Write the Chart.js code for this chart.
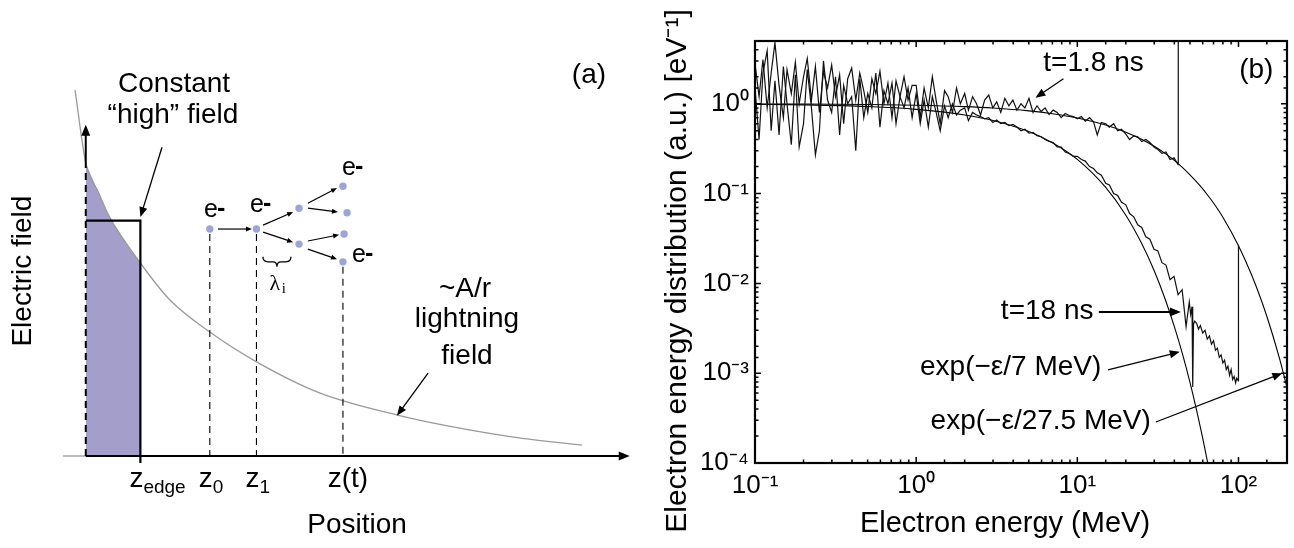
<!DOCTYPE html>
<html>
<head>
<meta charset="utf-8">
<script src="https://cdn.jsdelivr.net/npm/chart.js@4.4.0/dist/chart.umd.min.js"></script>
<style>
    html, body { margin: 0; padding: 0; background: #fff; overflow: hidden; }
    #tela { position: relative; width: 1294px; height: 548px; }
    canvas { position: absolute; top: 0; }
    #esquema { left: 0; }
    #espectro { left: 647px; }
</style>
</head>
<body>
<div id="tela">
    <canvas id="esquema" width="647" height="548"></canvas>
    <canvas id="espectro" width="647" height="548"></canvas>
</div>
<script>
// ===== painel (a): esquema do campo (unidades arbitrarias) =====
var curvaZ = [-0.47, 0, 0.55, 1.05, 2.4, 3.7, 5.45, 7.5, 10.3, 13.7, 15.9, 18.8, 21.8];
var curvaE = [9.48, 7.59, 6.84, 6.19, 5.0, 4.04, 3.21, 2.44, 1.63, 1.06, 0.78, 0.49, 0.28];
var zEdge = 2.4;
var campoAlto = 6.1;
var eletronZ = [5.45, 7.5, 9.37, 9.37, 11.3, 11.48, 11.35, 11.3];
var eletronE = [5.88, 5.88, 6.42, 5.49, 6.99, 6.30, 5.75, 5.03];
var guiaZ = [5.45, 7.5, 11.3];
var guiaTopo = [5.75, 5.75, 4.9];
var marcaZ = [2.4, 5.45, 7.5];
var marcaSub = ['edge', '0', '1'];

// ===== painel (b): espectro de energia =====
var energia = [
    0.100, 0.106, 0.112, 0.119, 0.126, 0.133, 0.141, 0.150, 0.158, 0.168,
    0.178, 0.188, 0.200, 0.211, 0.224, 0.237, 0.251, 0.266, 0.282, 0.299,
    0.316, 0.335, 0.355, 0.376, 0.398, 0.422, 0.447, 0.473, 0.501, 0.531,
    0.562, 0.596, 0.631, 0.668, 0.708, 0.750, 0.794, 0.841, 0.891, 0.944,
    1.00, 1.06, 1.12, 1.19, 1.26, 1.33, 1.41, 1.50, 1.58, 1.68,
    1.78, 1.88, 2.00, 2.11, 2.24, 2.37, 2.51, 2.66, 2.82, 2.99,
    3.16, 3.35, 3.55, 3.76, 3.98, 4.22, 4.47, 4.73, 5.01, 5.31,
    5.62, 5.96, 6.31, 6.68, 7.08, 7.50, 7.94, 8.41, 8.91, 9.44,
    10.0, 10.6, 11.2, 11.9, 12.6, 13.3, 14.1, 15.0, 15.8, 16.8,
    17.8, 18.8, 20.0, 21.1, 22.4, 23.7, 25.1, 26.6, 28.2, 29.9,
    31.6, 33.5, 35.5, 37.6, 39.8, 42.2, 44.7, 47.3
];
// t=1.8 ns
var dist1p8 = [
    2.8, 1.2, 3.1, 0.9, 2.2, 4.8, 1.6, 0.7, 2.4, 1.3,
    2.9, 1.0, 2.0, 3.2, 1.1, 2.6, 0.8, 2.3, 1.5, 2.7,
    1.2, 2.1, 0.6, 1.9, 2.5, 1.1, 2.2, 1.4, 0.8, 1.9,
    1.3, 2.3, 1.0, 1.7, 0.7, 1.8, 1.2, 2.0, 1.1, 1.6,
    1.6, 0.7, 1.5, 0.9, 2.0, 1.1, 0.6, 1.4, 1.2, 0.8,
    1.5, 1.0, 1.3, 0.85, 1.2, 1.0, 0.75, 1.1, 1.25, 0.9,
    1.05, 0.8, 1.15, 0.95, 1.1, 0.85, 1.0, 0.9, 1.15, 0.8,
    0.95, 0.82, 0.9, 0.76, 0.85, 0.8, 0.7, 0.78, 0.74, 0.72,
    0.68, 0.72, 0.64, 0.7, 0.63, 0.45, 0.62, 0.6, 0.55, 0.6,
    0.5, 0.52, 0.46, 0.4, 0.44, 0.43, 0.38, 0.4, 0.37, 0.33,
    0.31, 0.28, 0.29, 0.24, 0.25, 0.21
];
var pico1p8E = [42.3];
var pico1p8V = [60];
// t=18 ns
var dist18 = [
    1.5, 0.4, 2.2, 3.9, 0.5, 1.8, 0.45, 2.6, 1.0, 0.35,
    2.1, 0.33, 0.6, 2.4, 0.9, 0.27, 0.5, 3.0, 1.1, 0.8,
    2.0, 0.45, 1.6, 1.0, 1.2, 0.3, 1.9, 0.7, 1.3, 0.9,
    2.2, 0.55, 1.4, 1.0, 1.7, 0.6, 1.2, 0.9, 1.5, 0.7,
    1.3, 0.6, 1.1, 0.55, 1.2, 0.8, 0.5, 0.95, 0.7, 1.0,
    0.75, 0.85, 0.9, 0.65, 0.8, 0.75, 0.72, 0.68, 0.7, 0.62,
    0.66, 0.6, 0.62, 0.57, 0.59, 0.55, 0.5, 0.52, 0.47, 0.48,
    0.44, 0.43, 0.4, 0.38, 0.37, 0.33, 0.33, 0.29, 0.28, 0.26,
    0.26, 0.24, 0.23, 0.2, 0.19, 0.17, 0.16, 0.13, 0.125, 0.1,
    0.095, 0.08, 0.075, 0.06, 0.055, 0.045, 0.042, 0.033, 0.031, 0.024,
    0.023, 0.017, 0.016, 0.011, 0.012, 0.0075, 0.0085, 0.0033
];
var cauda18E = [49.5, 50.5, 51.5, 52.0, 52.6, 53.5, 55, 56.5, 58, 60, 62, 64, 66, 68, 70,
    72, 74, 76, 78, 80, 82, 84, 86, 88, 90, 92, 94, 96, 97.5, 99.8, 100];
var cauda18V = [0.0062, 0.0045, 0.0055, 0.0007, 0.0035, 0.0038, 0.0036, 0.0031, 0.0034, 0.0028,
    0.0030, 0.0024, 0.0026, 0.0021, 0.0023, 0.0018, 0.0019, 0.0015, 0.0016, 0.0013,
    0.0014, 0.0011, 0.0012, 0.00095, 0.0011, 0.00085, 0.00092, 0.00078, 0.00088, 0.00082, 0.027];
// curvas de ajuste
var ajusteE = [0.1, 0.2, 0.5, 1, 2, 3, 5, 7, 10, 15, 20, 25, 30, 35, 40, 45, 50, 55, 60, 65,
    70, 80, 100, 120, 140, 160, 180, 200];
var ajuste275 = [0.996, 0.993, 0.982, 0.964, 0.930, 0.897, 0.834, 0.775, 0.695, 0.580,
    0.483, 0.403, 0.336, 0.280, 0.234, 0.195, 0.162, 0.135, 0.113, 0.094,
    0.0785, 0.0545, 0.0263, 0.0127, 0.00616, 0.00297, 0.00144, 0.000693];
var ajuste7 = [0.986, 0.972, 0.931, 0.867, 0.751, 0.651, 0.490, 0.368, 0.240, 0.117,
    0.0574, 0.0281, 0.0138, 0.00674, 0.0033, 0.00162, 0.00079, 0.000386, 0.000189, 0.0000926,
    0.0000454];
var xTickValor = [0.1, 1, 10, 100];
var xTickRotulo = ['10⁻¹', '10⁰', '10¹', '10²'];
var yTickValor = [0.0001, 0.001, 0.01, 0.1, 1];
var yTickRotulo = ['10⁻⁴', '10⁻³', '10⁻²', '10⁻¹', '10⁰'];

var fonte = '"Liberation Sans", Arial, Helvetica, sans-serif';
Chart.defaults.font.family = fonte;
Chart.defaults.color = '#000';

function pares(xs, ys) {
    return ys.map(function (v, i) { return { x: xs[i], y: v }; });
}

function seta(ctx, x1, y1, x2, y2, comp, larg) {
    var ang = Math.atan2(y2 - y1, x2 - x1);
    var c = Math.cos(ang), s = Math.sin(ang);
    ctx.beginPath();
    ctx.moveTo(x1, y1);
    ctx.lineTo(x2 - c * comp * 0.8, y2 - s * comp * 0.8);
    ctx.stroke();
    ctx.beginPath();
    ctx.moveTo(x2, y2);
    ctx.lineTo(x2 - comp * c + larg * s, y2 - comp * s - larg * c);
    ctx.lineTo(x2 - comp * c - larg * s, y2 - comp * s + larg * c);
    ctx.closePath();
    ctx.fill();
}

function escreve(ctx, txt, x, y, tam, alinha, base) {
    ctx.font = tam + 'px ' + fonte;
    ctx.textAlign = alinha || 'center';
    ctx.textBaseline = base || 'alphabetic';
    ctx.fillText(txt, x, y);
}

// desenhos extras do esquema (eixos, setas, textos)
var desenhoEsquema = {
    id: 'desenhoEsquema',
    afterDatasetsDraw: function (chart) {
        var ctx = chart.ctx;
        var x = chart.scales.x, y = chart.scales.y;
        var px = function (v) { return x.getPixelForValue(v); };
        var py = function (v) { return y.getPixelForValue(v); };
        ctx.save();
        ctx.fillStyle = '#000';
        ctx.strokeStyle = '#000';

        // eixos
        ctx.lineWidth = 2;
        seta(ctx, px(0), py(0), px(23.9), py(0), 11, 4.5);
        seta(ctx, px(0), py(7.59), px(0), py(8.58), 11, 4.5);
        ctx.setLineDash([7, 5]);
        ctx.beginPath();
        ctx.moveTo(px(0), py(0));
        ctx.lineTo(px(0), py(7.59));
        ctx.stroke();
        ctx.setLineDash([]);

        // setas das anotacoes
        ctx.lineWidth = 1.3;
        seta(ctx, px(3.35), py(8.0), px(2.4), py(6.19), 10, 4);
        seta(ctx, px(15.04), py(2.15), px(13.67), py(1.04), 10, 4);

        // cascata de eletrons
        ctx.lineWidth = 1.2;
        var cascata = [
            [5.81, 5.88, 7.30, 5.88], [7.79, 5.98, 9.11, 6.32], [7.79, 5.80, 9.11, 5.54],
            [9.76, 6.55, 11.04, 6.94], [9.76, 6.42, 11.08, 6.32], [9.76, 5.57, 11.13, 5.73],
            [9.76, 5.36, 11.04, 5.10]
        ];
        cascata.forEach(function (c) {
            seta(ctx, px(c[0]), py(c[1]), px(c[2]), py(c[3]), 6, 2.5);
        });

        // chave lambda_i
        var bx = px(8.40), by = py(5.03);
        ctx.lineWidth = 1.3;
        ctx.beginPath();
        ctx.moveTo(bx - 14, by - 5);
        ctx.quadraticCurveTo(bx - 14, by, bx - 9, by);
        ctx.lineTo(bx - 4, by);
        ctx.quadraticCurveTo(bx, by, bx, by + 5);
        ctx.quadraticCurveTo(bx, by, bx + 4, by);
        ctx.lineTo(bx + 9, by);
        ctx.quadraticCurveTo(bx + 14, by, bx + 14, by - 5);
        ctx.stroke();
        ctx.font = '22px "Liberation Serif", "Times New Roman", serif';
        ctx.textAlign = 'center';
        ctx.textBaseline = 'alphabetic';
        ctx.fillText('λ', bx - 2, by + 28);
        ctx.font = '15px "Liberation Serif", "Times New Roman", serif';
        ctx.fillText('i', bx + 7, by + 31);

        // rotulos e-
        var rotE = [[5.63, 6.37], [7.66, 6.50], [11.70, 7.46], [12.14, 5.21]];
        rotE.forEach(function (r) {
            var cx = px(r[0]), cy = py(r[1]);
            escreve(ctx, 'e', cx - 10, cy, 25, 'left', 'middle');
            ctx.font = 'bold 25px ' + fonte;
            ctx.fillText('-', cx + 3, cy - 1);
        });

        // textos
        escreve(ctx, 'Constant', px(3.88), py(9.43), 28);
        escreve(ctx, '“high” field', px(3.83), py(8.63), 28);
        escreve(ctx, '(a)', px(22.11), py(9.87), 28, 'center', 'middle');
        escreve(ctx, '~A/r', px(16.66), py(4.12), 28);
        escreve(ctx, 'lightning', px(16.75), py(3.34), 28);
        escreve(ctx, 'field', px(16.75), py(2.38), 28);
        escreve(ctx, 'Position', px(11.92), py(-1.99), 28);

        // marcas no eixo z
        for (var i = 0; i < marcaZ.length; i++) {
            var mx = px(marcaZ[i]) + 3, my = py(-0.8);
            escreve(ctx, 'z', mx, my, 28, 'right');
            escreve(ctx, marcaSub[i], mx, my + 6, 19, 'left');
        }
        escreve(ctx, 'z(t)', px(11.52), py(-0.8), 28);

        // titulo do eixo vertical
        ctx.save();
        ctx.translate(px(-2.76), py(4.79));
        ctx.rotate(-Math.PI / 2);
        escreve(ctx, 'Electric field', 0, 0, 28, 'center', 'middle');
        ctx.restore();
        ctx.restore();
    }
};

var pontosGuia = [];
for (var g = 0; g < guiaZ.length; g++) {
    pontosGuia.push({ x: guiaZ[g], y: guiaTopo[g] });
    pontosGuia.push({ x: guiaZ[g], y: 0 });
    pontosGuia.push({ x: guiaZ[g], y: null });
}

var graficoEsquema = new Chart(document.getElementById('esquema'), {
    type: 'line',
    data: {
        datasets: [
            {
                // preenchimento sob a curva ate z_edge
                data: pares(curvaZ.slice(1, 5), curvaE.slice(1, 5)),
                fill: 'origin', backgroundColor: '#a39fca', borderWidth: 0,
                pointRadius: 0, cubicInterpolationMode: 'monotone', order: 6, clip: false
            },
            {
                data: pares(curvaZ, curvaE),
                borderColor: '#9a9a9a', borderWidth: 1.3, pointRadius: 0,
                cubicInterpolationMode: 'monotone', order: 4, clip: false
            },
            {
                data: [{ x: -1, y: 0 }, { x: 0, y: 0 }],
                borderColor: '#9a9a9a', borderWidth: 1.3, pointRadius: 0, order: 4, clip: false
            },
            {
                data: [{ x: 0, y: campoAlto }, { x: zEdge, y: campoAlto }, { x: zEdge, y: -0.18 }],
                borderColor: '#000', borderWidth: 2.2, pointRadius: 0, order: 2, clip: false
            },
            {
                data: pontosGuia, spanGaps: false,
                borderColor: '#000', borderWidth: 1.1, borderDash: [7, 5], pointRadius: 0, order: 3, clip: false
            },
            {
                type: 'scatter',
                data: pares(eletronZ, eletronE),
                showLine: false, pointRadius: 3.7, backgroundColor: '#9ba6d8', borderWidth: 0, order: 1, clip: false
            }
        ]
    },
    options: {
        responsive: false,
        animation: false,
        events: [],
        layout: { padding: { left: 63, right: 15, top: 70, bottom: 92 } },
        plugins: { legend: { display: false }, tooltip: { enabled: false } },
        scales: {
            x: { type: 'linear', min: -1, max: 24, display: false },
            y: { type: 'linear', min: 0, max: 10, display: false }
        }
    },
    plugins: [desenhoEsquema]
});

function rotuloTick(v, valores, rotulos) {
    for (var i = 0; i < valores.length; i++) {
        if (Math.abs(Math.log10(v) - Math.log10(valores[i])) < 1e-6) return rotulos[i];
    }
    return '';
}

function decada(v) {
    var l = Math.log10(v);
    return Math.abs(l - Math.round(l)) < 1e-6;
}

// moldura, tracos internos, titulos e anotacoes do espectro
var molduraEspectro = {
    id: 'molduraEspectro',
    afterDraw: function (chart) {
        var ctx = chart.ctx, a = chart.chartArea;
        var x = chart.scales.x, y = chart.scales.y;
        var px = function (v) { return x.getPixelForValue(v); };
        var py = function (v) { return y.getPixelForValue(v); };
        ctx.save();
        ctx.strokeStyle = '#000';
        ctx.fillStyle = '#000';
        ctx.lineWidth = 1.5;
        x.ticks.forEach(function (t) {
            var p = px(t.value), n = decada(t.value) ? 6 : 3.5;
            if (p < a.left || p > a.right) return;
            ctx.beginPath();
            ctx.moveTo(p, a.bottom); ctx.lineTo(p, a.bottom - n);
            ctx.moveTo(p, a.top); ctx.lineTo(p, a.top + n);
            ctx.stroke();
        });
        y.ticks.forEach(function (t) {
            var p = py(t.value), n = decada(t.value) ? 6 : 3.5;
            if (p < a.top || p > a.bottom) return;
            ctx.beginPath();
            ctx.moveTo(a.left, p); ctx.lineTo(a.left + n, p);
            ctx.moveTo(a.right, p); ctx.lineTo(a.right - n, p);
            ctx.stroke();
        });
        ctx.lineWidth = 2.2;
        ctx.strokeRect(a.left, a.top, a.right - a.left, a.bottom - a.top);

        // titulos dos eixos
        escreve(ctx, 'Electron energy (MeV)', a.left + 250, a.bottom + 69, 29);
        ctx.save();
        ctx.translate(a.left - 77, (a.top + a.bottom) / 2 + 19);
        ctx.rotate(-Math.PI / 2);
        escreve(ctx, 'Electron energy distribution (a.u.) [eV⁻¹]', 0, 0, 30, 'center', 'middle');
        ctx.restore();

        // anotacoes
        escreve(ctx, 't=1.8 ns', px(12.6), py(2.79), 28, 'center', 'middle');
        escreve(ctx, '(b)', px(129), py(2.39), 28, 'center', 'middle');
        escreve(ctx, 't=18 ns', px(12.6), py(0.00494), 28, 'right', 'middle');
        escreve(ctx, 'exp(−ε/7 MeV)', px(14.1), py(0.00115), 28, 'right', 'middle');
        escreve(ctx, 'exp(−ε/27.5 MeV)', px(28.6), py(0.000294), 28, 'right', 'middle');
        ctx.lineWidth = 1.3;
        seta(ctx, px(8.2), py(1.9), px(5.5), py(1.166), 10, 4);
        ctx.lineWidth = 2;
        seta(ctx, px(13.6), py(0.0048), px(43.9), py(0.0048), 11, 4.5);
        ctx.lineWidth = 1.3;
        seta(ctx, px(15.5), py(0.00109), px(43.2), py(0.00173), 10, 4);
        seta(ctx, px(30.7), py(0.000286), px(187), py(0.001), 10, 4);
        ctx.restore();
    }
};

var graficoEspectro = new Chart(document.getElementById('espectro'), {
    type: 'line',
    data: {
        datasets: [
            {
                label: 't=1.8 ns',
                data: pares(energia, dist1p8).concat(pares(pico1p8E, pico1p8V)),
                borderColor: '#111', borderWidth: 1.2, pointRadius: 0, tension: 0
            },
            {
                label: 't=18 ns',
                data: pares(energia, dist18).concat(pares(cauda18E, cauda18V)),
                borderColor: '#111', borderWidth: 1.2, pointRadius: 0, tension: 0
            },
            {
                label: 'exp(−ε/27.5 MeV)',
                data: pares(ajusteE, ajuste275),
                borderColor: '#000', borderWidth: 1.1, pointRadius: 0, cubicInterpolationMode: 'monotone'
            },
            {
                label: 'exp(−ε/7 MeV)',
                data: pares(ajusteE, ajuste7),
                borderColor: '#000', borderWidth: 1.1, pointRadius: 0, cubicInterpolationMode: 'monotone'
            }
        ]
    },
    options: {
        responsive: false,
        animation: false,
        events: [],
        layout: { padding: { top: 41, right: 4, left: 0, bottom: 0 } },
        plugins: { legend: { display: false }, tooltip: { enabled: false } },
        scales: {
            x: {
                type: 'logarithmic', min: 0.1, max: 200,
                grid: { display: false, drawTicks: false }, border: { display: false },
                ticks: {
                    autoSkip: false, maxRotation: 0, padding: 7, color: '#000', font: { size: 26 },
                    callback: function (v) { return rotuloTick(v, xTickValor, xTickRotulo); }
                },
                afterFit: function (s) { s.height = 85; }
            },
            y: {
                type: 'logarithmic', min: 0.0001, max: 5,
                grid: { display: false, drawTicks: false }, border: { display: false },
                ticks: {
                    autoSkip: false, padding: 6, color: '#000', font: { size: 26 },
                    callback: function (v) { return rotuloTick(v, yTickValor, yTickRotulo); }
                },
                afterFit: function (s) { s.width = 108; }
            }
        }
    },
    plugins: [molduraEspectro]
});
</script>
</body>
</html>
